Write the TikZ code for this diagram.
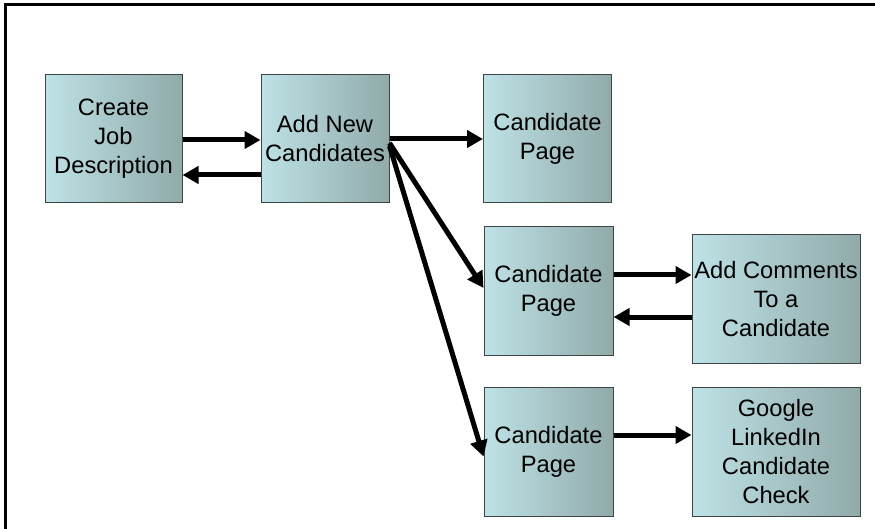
\documentclass[tikz,border=0pt]{standalone}
\usepackage{fontspec}
\setmainfont{Liberation Sans}
\usetikzlibrary{arrows.meta,calc}
\definecolor{boxlight}{RGB}{190,226,230}
\definecolor{boxdark}{RGB}{145,170,170}
\definecolor{boxline}{RGB}{60,70,70}
\tikzset{
  stepbox/.style={draw=boxline, line width=1pt, left color=boxlight, right color=boxdark,
    minimum height=128pt, inner sep=0pt, align=center,
    font=\fontsize{23.7pt}{29pt}\selectfont},
  flow/.style={line width=5pt, -{Triangle[length=16pt,width=17pt]}}
}
\begin{document}
\begin{tikzpicture}[x=1pt,y=-1pt]
\useasboundingbox (0,0) rectangle (875,529);
\begin{scope}
\clip (0,0) rectangle (875,529);
\draw[line width=3pt] (5.5,4.5) rectangle (900,560);
\end{scope}
\node[stepbox, minimum width=137pt] (create) at (113.5,139) {Create\\Job\\Description};
\node[stepbox, minimum width=128pt] (add) at (325,139) {Add New\\Candidates};
\node[stepbox, minimum width=128pt] (cp1) at (547.5,139) {Candidate\\Page};
\node[stepbox, minimum width=129pt] (cp2) at (548.5,291) {Candidate\\Page};
\node[stepbox, minimum width=168pt] (addc) at (776,299) {Add Comments\\To a\\Candidate};
\node[stepbox, minimum width=129pt, minimum height=129pt] (cp3) at (548.5,451.5) {Candidate\\Page};
\node[stepbox, minimum width=168pt, minimum height=129pt] (google) at (776,451.5) {Google\\LinkedIn\\Candidate\\Check};
% arrows
\draw[flow] ([yshift=-1pt]create.east) -- ([yshift=-1pt]add.west);
\draw[flow] ([yshift=-36pt]add.west) -- ([yshift=-36pt]create.east);
\draw[flow] (add.east) -- (cp1.west);
\draw[flow] ([yshift=-4pt]add.east) -- ([yshift=3pt]cp2.west);
\draw[flow] ([yshift=-7pt]add.east) -- ([yshift=-5pt]cp3.west);
\coordinate (fwd) at ($(cp2.east)+(0,-16)$);
\draw[flow] (fwd) -- (addc.west |- fwd);
\coordinate (ret) at ($(cp2.east)+(0,26)$);
\draw[flow] (addc.west |- ret) -- (ret);
\coordinate (gg) at ($(cp3.east)+(0,-16.5)$);
\draw[flow] (gg) -- (google.west |- gg);
\end{tikzpicture}
\end{document}
